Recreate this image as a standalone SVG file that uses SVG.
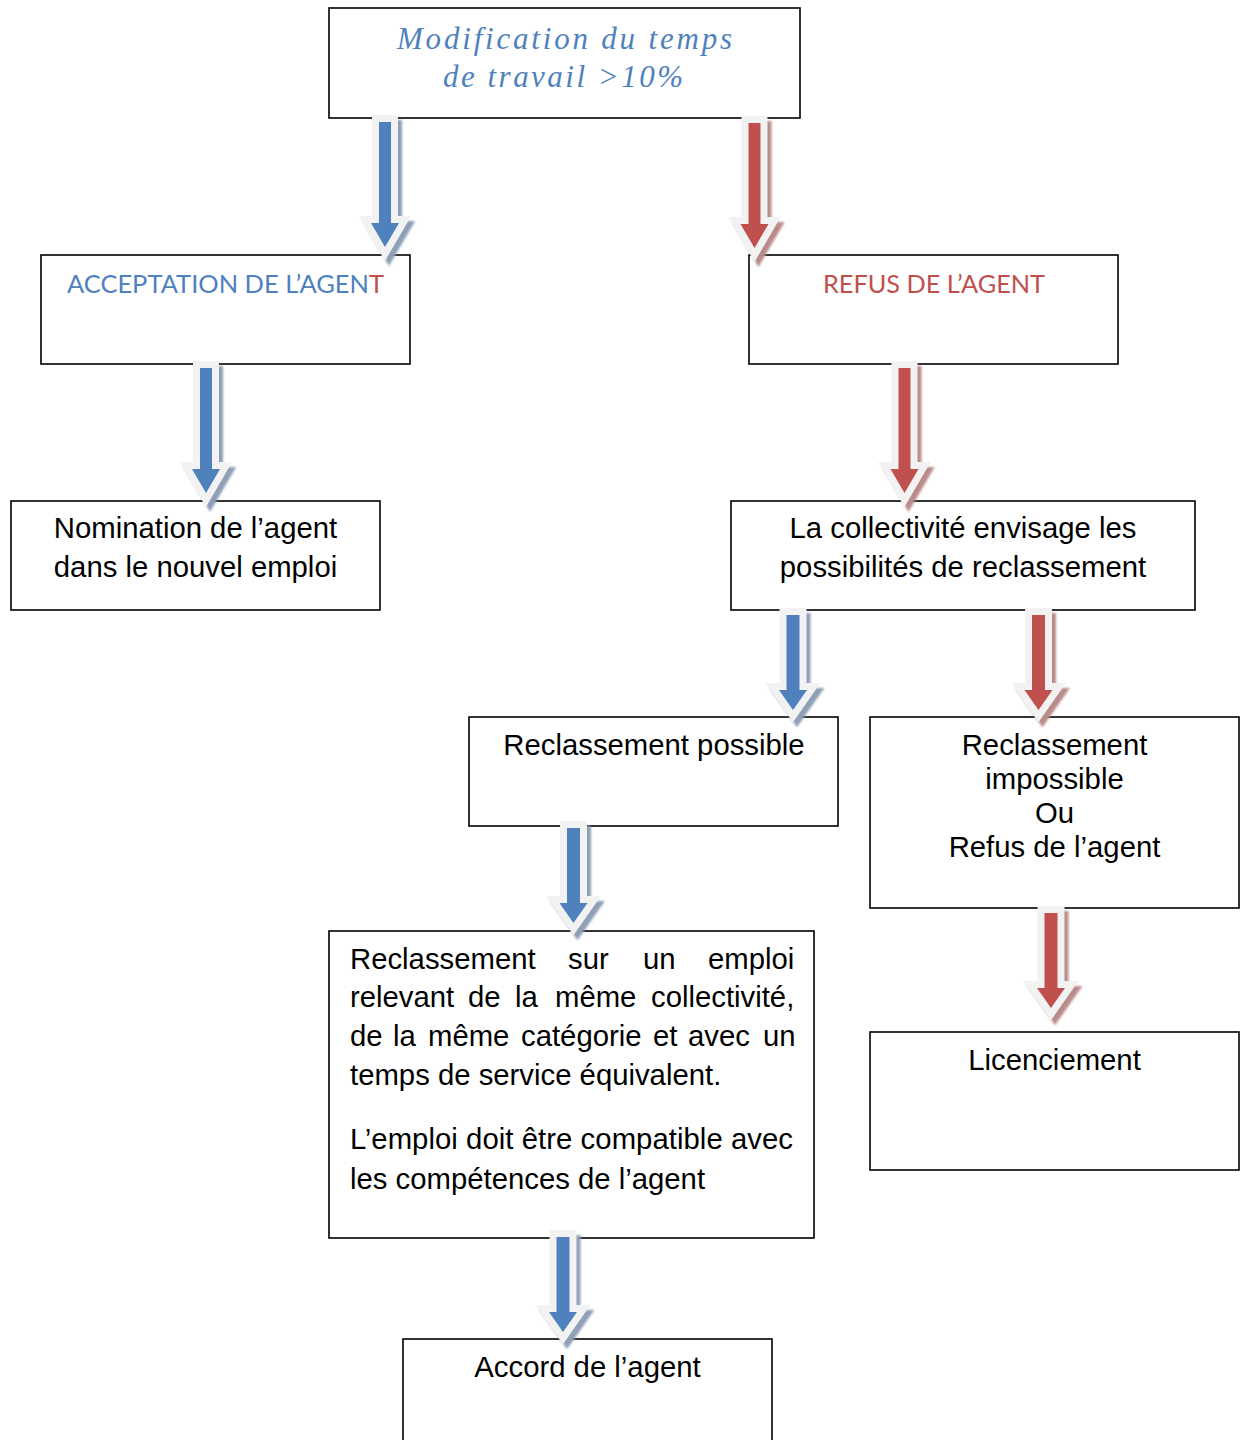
<svg xmlns="http://www.w3.org/2000/svg" width="1245" height="1440" viewBox="0 0 1245 1440">
  <style>
    .box { fill: #ffffff; stroke: #000000; stroke-width: 1.6; }
    .body { font-family: "Liberation Sans", Arial, sans-serif; font-size: 29.3px; fill: #000000; }
    .mid { text-anchor: middle; }
    .title { font-family: "Liberation Serif", "Times New Roman", serif; font-style: italic; font-size: 31px; fill: #4f81bd; text-anchor: middle; }
    .caps { font-family: Lato, "Open Sans", sans-serif; font-size: 25px; }
    .blue { fill: #4f81bd; }
    .red { fill: #c0504d; }
    .arrow { stroke: #f2f2f2; stroke-width: 14; stroke-linejoin: miter; stroke-miterlimit: 10; paint-order: stroke; }
    .shadow-blue { fill: #8e9fb6; stroke: #8e9fb6; stroke-width: 14; stroke-linejoin: miter; stroke-miterlimit: 10; }
    .shadow-red { fill: #b98c8b; stroke: #b98c8b; stroke-width: 14; stroke-linejoin: miter; stroke-miterlimit: 10; }
  </style>
  <defs>
    <filter id="soft" x="-20%" y="-20%" width="140%" height="140%">
      <feGaussianBlur stdDeviation="0.8"/>
    </filter>
    <!-- long block arrow: shaft half-width 6, head half-width 14 -->
    <path id="longArrow" d="M -6 0 H 6 V 101 H 14 L 0 125 L -14 101 H -6 Z"/>
    <!-- short block arrow -->
    <path id="shortArrow" d="M -6.5 0 H 6.5 V 75 H 14 L 0 95 L -14 75 H -6.5 Z"/>
  </defs>

  <rect width="1245" height="1440" fill="#ffffff"/>

  <g id="node-modification">
    <rect class="box" x="329" y="8" width="471" height="110"/>
    <text class="title" x="564.5" y="49" textLength="335" lengthAdjust="spacing">Modification du temps</text>
    <text class="title" x="563" y="87" textLength="240" lengthAdjust="spacing">de travail &gt;10%</text>
  </g>

  <g id="node-acceptation">
    <rect class="box" x="41" y="255" width="369" height="109"/>
    <text class="caps" x="67" y="293" textLength="317" lengthAdjust="spacingAndGlyphs"><tspan class="blue">ACCEPTATION DE L’AGEN</tspan><tspan class="red">T</tspan></text>
  </g>

  <g id="node-refus">
    <rect class="box" x="749" y="255" width="369" height="109"/>
    <text class="caps red" x="823" y="293" textLength="222" lengthAdjust="spacingAndGlyphs">REFUS DE L’AGENT</text>
  </g>

  <g id="node-nomination">
    <rect class="box" x="11" y="501" width="369" height="109"/>
    <text class="body mid" x="195.5" y="538">Nomination de l’agent</text>
    <text class="body mid" x="195.5" y="577">dans le nouvel emploi</text>
  </g>

  <g id="node-collectivite">
    <rect class="box" x="731" y="501" width="464" height="109"/>
    <text class="body mid" x="963" y="538">La collectivité envisage les</text>
    <text class="body mid" x="963" y="577">possibilités de reclassement</text>
  </g>

  <g id="node-possible">
    <rect class="box" x="469" y="717" width="369" height="109"/>
    <text class="body mid" x="654" y="755">Reclassement possible</text>
  </g>

  <g id="node-impossible">
    <rect class="box" x="870" y="717" width="369" height="191"/>
    <text class="body mid" x="1054.5" y="755">Reclassement</text>
    <text class="body mid" x="1054.5" y="789">impossible</text>
    <text class="body mid" x="1054.5" y="823">Ou</text>
    <text class="body mid" x="1054.5" y="857">Refus de l’agent</text>
  </g>

  <g id="node-reclassement">
    <rect class="box" x="329" y="931" width="485" height="307"/>
    <text class="body" y="969"><tspan x="350">Reclassement</tspan><tspan x="568">sur</tspan><tspan x="643">un</tspan><tspan x="708">emploi</tspan></text>
    <text class="body" y="1007"><tspan x="350">relevant</tspan><tspan x="468">de</tspan><tspan x="515">la</tspan><tspan x="555">même</tspan><tspan x="651">collectivité,</tspan></text>
    <text class="body" y="1046"><tspan x="350">de</tspan><tspan x="393">la</tspan><tspan x="428">même</tspan><tspan x="521">catégorie</tspan><tspan x="653">et</tspan><tspan x="688">avec</tspan><tspan x="763">un</tspan></text>
    <text class="body" x="350" y="1085">temps de service équivalent.</text>
    <text class="body" x="350" y="1149" textLength="443" lengthAdjust="spacing">L’emploi doit être compatible avec</text>
    <text class="body" x="350" y="1189">les compétences de l’agent</text>
  </g>

  <g id="node-licenciement">
    <rect class="box" x="870" y="1032" width="369" height="138"/>
    <text class="body mid" x="1054.5" y="1070">Licenciement</text>
  </g>

  <g id="node-accord">
    <rect class="box" x="403" y="1339" width="369" height="110"/>
    <text class="body mid" x="587.5" y="1377">Accord de l’agent</text>
  </g>

  <g id="connectors">
    <!-- shadows -->
    <g filter="url(#soft)">
      <use href="#longArrow" class="shadow-blue" transform="translate(389 127)"/>
      <use href="#longArrow" class="shadow-red" transform="translate(758.5 128)"/>
      <use href="#longArrow" class="shadow-blue" transform="translate(210 373)"/>
      <use href="#longArrow" class="shadow-red" transform="translate(908.5 373)"/>
      <use href="#shortArrow" class="shadow-blue" transform="translate(797 620)"/>
      <use href="#shortArrow" class="shadow-red" transform="translate(1042.5 620)"/>
      <use href="#shortArrow" class="shadow-blue" transform="translate(577.5 833)"/>
      <use href="#shortArrow" class="shadow-red" transform="translate(1055 918)"/>
      <use href="#shortArrow" class="shadow-blue" transform="translate(567 1242)"/>
    </g>
    <!-- arrows -->
    <use href="#longArrow" class="arrow blue" transform="translate(385 122)"/>
    <use href="#longArrow" class="arrow red" transform="translate(754.5 123)"/>
    <use href="#longArrow" class="arrow blue" transform="translate(206 368)"/>
    <use href="#longArrow" class="arrow red" transform="translate(904.5 368)"/>
    <use href="#shortArrow" class="arrow blue" transform="translate(793 615)"/>
    <use href="#shortArrow" class="arrow red" transform="translate(1038.5 615)"/>
    <use href="#shortArrow" class="arrow blue" transform="translate(573.5 828)"/>
    <use href="#shortArrow" class="arrow red" transform="translate(1051 913)"/>
    <use href="#shortArrow" class="arrow blue" transform="translate(563 1237)"/>
  </g>
</svg>
